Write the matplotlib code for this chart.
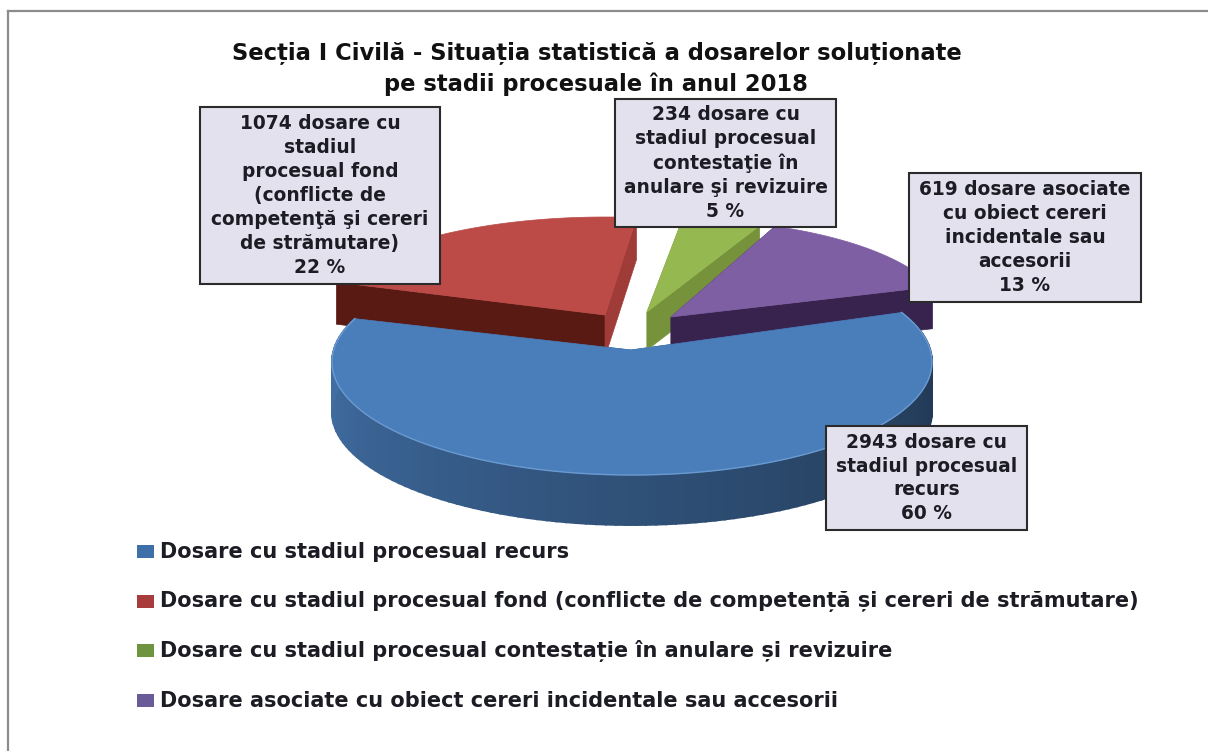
"""
plot.py
- 3D-looking exploded pie, drawn by hand from polygons (matplotlib has no real 3D pie)
"""

import numpy as np
import matplotlib
matplotlib.use("Agg")
import matplotlib.pyplot as plt
from matplotlib.patches import Rectangle

title_lines = ["Secția I Civilă - Situația statistică a dosarelor soluționate",
               "pe stadii procesuale în anul 2018"]
counts = [2943, 1074, 234, 619]
percents = [60, 22, 5, 13]
legend_labels = [
    "Dosare cu stadiul procesual recurs",
    "Dosare cu stadiul procesual fond (conflicte de competență și cereri de strămutare)",
    "Dosare cu stadiul procesual contestație în anulare și revizuire",
    "Dosare asociate cu obiect cereri incidentale sau accesorii",
]
box_texts = [
    "dosare cu\nstadiul procesual\nrecurs",
    "dosare cu\nstadiul\nprocesual fond\n(conflicte de\ncompetenţă şi cereri\nde strămutare)",
    "dosare cu\nstadiul procesual\ncontestaţie în\nanulare şi revizuire",
    "dosare asociate\ncu obiect cereri\nincidentale sau\naccesorii",
]

top_colors = ["#4a7ebb", "#bc4b47", "#96b850", "#7f5fa3"]
cut_dark = ["#2f5a8c", "#5a1a14", "#76933c", "#38234f"]
cut_mid = ["#2f5a8c", "#a03c38", "#76933c", "#38234f"]
legend_colors = ["#3f6fa8", "#a83c3c", "#6f9440", "#6a5a98"]

FONT = ["DejaVu Sans"]
TEXT = "#1c1c24"
DEPTH = [50, 42, 38, 42]
START = 18.0

# centre, radii of each slice, in pixels of the picture
apex = [(631, 350), (605, 315), (647, 312), (671, 317)]
centre = [(632, 362), (605, 315), (647, 312), (671, 317)]
radii = [(300, 113), (285, 98), (238, 98), (275, 98)]
# angle correction at both ends of a slice, the picture has some perspective
pads = [(8, 3), (0, -2.6), (0, 2), (4, 0)]

box_rects = [(826, 426, 1027, 530), (200, 107, 440, 284), (615, 99, 836, 227), (909, 173, 1141, 302)]


def arc(i, t1, t2, n=120):
    t = np.radians(np.linspace(t1, t2, n))
    return centre[i][0] + radii[i][0] * np.cos(t), centre[i][1] - radii[i][1] * np.sin(t)


def shade(color, f):
    c = np.array(matplotlib.colors.to_rgb(color))
    return tuple(np.clip(c * f, 0, 1))


fig = plt.figure(figsize=(12.08, 7.51), dpi=100)
ax = fig.add_axes([0, 0, 1, 1])
ax.set_xlim(0, 1208)
ax.set_ylim(751, 0)
ax.axis("off")

# frame: only top and left lines show
ax.plot([8, 8], [11, 751], color="#8c8c8c", lw=1.6)
ax.plot([8, 1208], [11, 11], color="#8c8c8c", lw=1.6)

# slice angles, clockwise from START
angles = []
cur = START
for v in counts:
    sweep = v / sum(counts) * 360
    angles.append((cur, cur - sweep))
    cur -= sweep


def draw_slice(i):
    t1, t2 = angles[i]
    t1 += pads[i][0]
    t2 -= pads[i][1]
    ax_, ay_ = apex[i]
    d = DEPTH[i]
    xs, ys = arc(i, t1, t2)

    # radial cut faces
    for end, col in ((0, cut_dark[i]), (-1, cut_mid[i])):
        ax.fill([ax_, xs[end], xs[end], ax_], [ay_, ys[end], ys[end] + d, ay_ + d],
                color=col, lw=0.5, zorder=2 + i * 0.01)

    # curved outer wall, darker toward the right
    if i == 0:
        for k in range(len(xs) - 1):
            frac = k / (len(xs) - 1)
            col = shade(top_colors[0], 0.42 + 0.5 * frac ** 1.2)
            ax.fill([xs[k], xs[k + 1], xs[k + 1], xs[k]],
                    [ys[k], ys[k + 1], ys[k + 1] + d, ys[k] + d],
                    color=col, lw=1.4, zorder=3)

    ax.fill(np.r_[ax_, xs], np.r_[ay_, ys], color=top_colors[i], lw=0.5, zorder=4 if i == 0 else 3)
    if i == 0:
        ax.plot(xs, ys, color="#6a9ad0", lw=1.0, zorder=4.1)


for i in [1, 2, 3, 0]:
    draw_slice(i)

# data label boxes
for i, (x0, y0, x1, y1) in enumerate(box_rects):
    ax.add_patch(Rectangle((x0, y0), x1 - x0, y1 - y0, facecolor="#e4e1ee", edgecolor="#2b2b2b",
                           lw=1.5, zorder=6))
    ax.text((x0 + x1) / 2, (y0 + y1) / 2, f"{counts[i]} {box_texts[i]}\n{percents[i]} %",
            ha="center", va="center", family=FONT, fontweight="bold", fontsize=13.4,
            color=TEXT, linespacing=1.33, zorder=7)

# title
ax.text(597, 53, title_lines[0], ha="center", va="center", family=FONT, fontweight="bold",
        fontsize=16.3, color="#111111")
ax.text(596, 84, title_lines[1], ha="center", va="center", family=FONT, fontweight="bold",
        fontsize=16.3, color="#111111")

# legend
legend_y = [552, 602, 651, 701]
for y, col, lab in zip(legend_y, legend_colors, legend_labels):
    ax.add_patch(Rectangle((137, y - 7), 17, 13, facecolor=col, edgecolor="none", zorder=5))
    ax.text(160, y, lab, ha="left", va="center", family=FONT, fontweight="bold", fontsize=15.05,
            color=TEXT)

fig.savefig("out.png", dpi=100)
